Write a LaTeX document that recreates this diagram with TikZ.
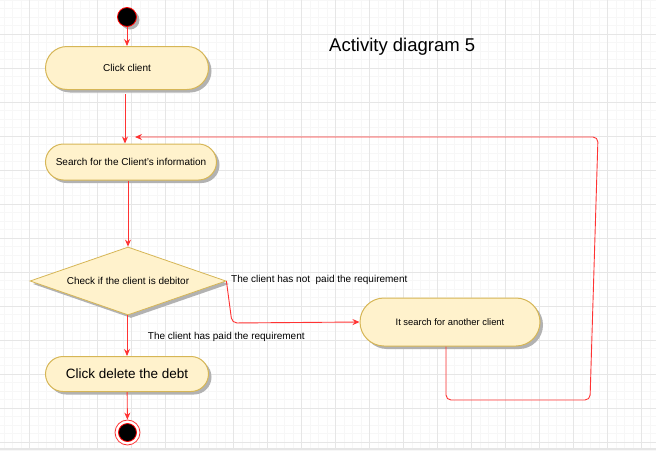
\documentclass[tikz,border=0pt]{standalone}
\usepackage{fontspec}
\setmainfont{Liberation Sans}
\usetikzlibrary{shapes.geometric}
\usetikzlibrary{shapes.misc}
\usetikzlibrary{shadows}
\usetikzlibrary{arrows.meta}
\definecolor{actfill}{HTML}{FFF2CC}
\definecolor{actline}{HTML}{D6B656}
\definecolor{flow}{HTML}{FF3333}
\definecolor{gridminor}{HTML}{F7F7F7}
\definecolor{gridmajor}{HTML}{E6E6E6}

\begin{document}
\begin{tikzpicture}[x=1pt,y=-1pt,
    shade3/.style={drop shadow={shadow xshift=3pt,shadow yshift=-3pt,fill=black!30,opacity=1}},
    activity/.style={rounded rectangle, draw=actline, fill=actfill, line width=1pt, inner sep=0pt, shade3},
    decision/.style={diamond, aspect=2.88, draw=actline, fill=actfill, line width=0.8pt, inner sep=0pt, shade3},
    flowline/.style={draw=flow, line width=0.9pt, -{Stealth[length=7pt,width=6pt]}},
    note/.style={anchor=west, inner sep=0pt, font=\fontsize{10}{12}\selectfont}]
	\useasboundingbox (0,0) rectangle (656,450);
	\fill[white] (0,0) rectangle (656,450);

	% background grid
	\foreach \gx in {0,...,77} \draw[gridminor, line width=0.6pt] (3.8+8.5*\gx,0) -- (3.8+8.5*\gx,450);
	\foreach \gy in {0,...,53} \draw[gridminor, line width=0.6pt] (0,8.5*\gy) -- (656,8.5*\gy);
	\foreach \gx in {0,...,19} \draw[gridmajor, line width=0.8pt] (29.3+34*\gx,0) -- (29.3+34*\gx,450);
	\foreach \gy in {1,...,13} \draw[gridmajor, line width=0.8pt] (0,34*\gy) -- (656,34*\gy);
	\fill[gridmajor] (0,448) rectangle (656,450);

	\node[font=\fontsize{18.5}{22}\selectfont, anchor=west, inner sep=0pt] (title) at (329,47) {Activity diagram 5};

	\node[circle, fill=black, draw=red, line width=0.8pt, minimum size=19pt, inner sep=0pt, shade3] (start) at (127,17) {};

	\node[activity, minimum width=163pt, minimum height=43pt, font=\fontsize{10}{12}\selectfont] (click) at (127,68) {Click client};
	\node[activity, minimum width=171pt, minimum height=36pt, font=\fontsize{10}{12}\selectfont] (search) at (131,162) {Search for the Client's information};
	\node[decision, minimum width=196pt, minimum height=68pt, font=\fontsize{10}{12}\selectfont] (debitor) at (128,281) {Check if the client is debitor};
	\node[activity, minimum width=163pt, minimum height=35pt, font=\fontsize{13.5}{16}\selectfont] (delete) at (127,374) {Click delete the debt};
	\node[activity, minimum width=180pt, minimum height=48pt, font=\fontsize{9.4}{11}\selectfont] (another) at (450,322) {It search for another client};

	\node[circle, draw=flow, fill=white, line width=0.8pt, minimum size=25pt, inner sep=0pt] (stop) at (127.5,432.5) {};
	\node[circle, fill=black, draw=red, line width=0.8pt, minimum size=18pt, inner sep=0pt] (stopdot) at (stop) {};

	\node[note] (notpaid) at (231,280) {The client has not\ \ paid the requirement};
	\node[note] (paid) at (147.7,337) {The client has paid the requirement};

	% flows
	\draw[flowline] (start) -- (click);
	\draw[flowline] ([xshift=-2pt,yshift=-4pt]click.south) -- ([xshift=-2pt]click.south |- search.north);
	\draw[flowline] (search.south -| debitor.north) -- (debitor.north);
	\draw[flowline] (debitor.south -| delete.north) -- (delete.north);
	\draw[flowline] (delete) -- (stop);
	\draw[flowline, rounded corners=5pt] (debitor.east) -- (232,323) -- (another.west);

	\coordinate (loopa) at (446,400);
	\coordinate (loopb) at (590,400);
	\coordinate (loopc) at (598,137);
	\coordinate (loopend) at (135,137);
	\draw[flowline, rounded corners=5pt] ([xshift=-4pt]another.south) -- (loopa) -- (loopb) -- (loopc) -- (loopend);
\end{tikzpicture}
\end{document}
